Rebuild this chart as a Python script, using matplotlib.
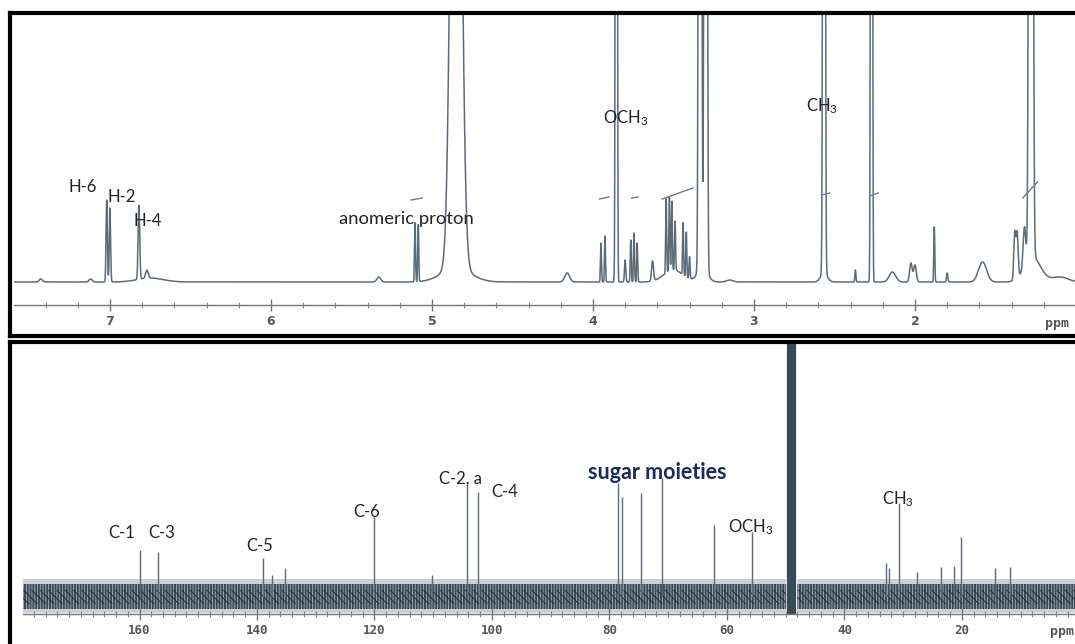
import numpy as np
import matplotlib.pyplot as plt
from matplotlib.ticker import MultipleLocator

plt.rcParams['font.family'] = ['Lato', 'DejaVu Sans']
plt.rcParams['mathtext.default'] = 'regular'
plt.rcParams['hatch.linewidth'] = 0.6

W, H = 1075, 644
LINE = '#5d6b78'
INK = '#222222'

# 1H spectrum: peak positions (ppm), heights above baseline, gaussian widths (ppm)
h_ppm = [7.43, 7.12, 7.02, 7.00, 6.82, 6.77, 6.75, 5.33, 5.105, 5.085, 4.85, 4.85,
         4.16, 3.95, 3.925, 3.855, 3.80, 3.765, 3.745, 3.725, 3.63, 3.545, 3.525,
         3.51, 3.49, 3.44, 3.42, 3.40, 3.50, 3.335, 3.30, 3.32, 3.15, 2.565, 2.565,
         2.37, 2.27, 2.14, 2.025, 2.00, 1.88, 1.80, 1.58, 1.38, 1.365, 1.32, 1.28,
         1.27, 1.10]
h_int = [3, 3, 82, 74, 74, 8, 4, 5, 59, 57, 900, 14,
         9, 39, 46, 2500, 22, 42, 49, 39, 20, 74, 74,
         69, 49, 52, 45, 22, 12, 3000, 3000, 15, 2, 2500, 10,
         12, 2500, 10, 19, 17, 55, 9, 20, 47, 45, 40, 3000,
         25, 5]
h_wid = [0.01, 0.01, 0.004, 0.004, 0.005, 0.008, 0.08, 0.012, 0.003, 0.003, 0.0275, 0.09,
         0.015, 0.003, 0.003, 0.004, 0.004, 0.003, 0.003, 0.003, 0.006, 0.003, 0.003,
         0.003, 0.003, 0.003, 0.003, 0.003, 0.06, 0.006, 0.006, 0.03, 0.02, 0.005, 0.02,
         0.003, 0.004, 0.02, 0.008, 0.008, 0.003, 0.004, 0.025, 0.006, 0.006, 0.008, 0.008,
         0.05, 0.05]

# integral traces: start ppm, end ppm, start level, end level
integ_start = [5.13, 3.96, 3.76, 3.57, 2.58, 2.28, 1.33]
integ_end = [5.06, 3.90, 3.72, 3.38, 2.53, 2.23, 1.24]
integ_y0 = [82, 83, 84, 83, 87, 86, 84]
integ_y1 = [84, 85, 85, 94, 89, 89, 100]

# 13C spectrum: line positions (ppm) and heights above the noise level
c_ppm = [160.0, 156.8, 138.9, 137.4, 135.2, 120.0, 110.2, 104.2, 102.3, 78.6, 77.9,
         74.7, 71.1, 62.2, 55.7, 33.0, 32.4, 30.7, 27.7, 23.6, 21.3, 20.1, 14.4, 11.8]
c_int = [47, 45, 39, 22, 29, 80, 22, 112, 105, 114, 100,
         104, 119, 72, 65, 34, 29, 94, 25, 30, 31, 60, 29, 30]
solvent_ppm = [48.36, 48.57, 48.79, 49.00, 49.21, 49.43, 49.64]

h_labels = ['H-6', 'H-2', 'H-4', 'anomeric proton', 'OCH$_3$', 'CH$_3$']
h_lab_x = [7.168, 6.925, 6.764, 5.162, 3.795, 2.578]
h_lab_y = [118, 108, 84, 86, 187, 199]
h_lab_size = [12, 12, 12, 13.3, 12, 12]

c_labels = ['C-1', 'C-3', 'C-5', 'C-6', 'C-2, a', 'C-4', 'OCH$_3$', 'CH$_3$']
c_lab_x = [163.0, 156.3, 139.5, 121.4, 105.3, 97.8, 55.9, 30.9]
c_lab_y = [81, 81, 68, 102, 135, 122, 87, 115]


def px_box(x0, y0, x1, y1):
    return [x0 / W, 1 - y1 / H, (x1 - x0) / W, (y1 - y0) / H]


fig = plt.figure(figsize=(W / 100, H / 100), dpi=100)

# black frames round both spectra
for box in (px_box(10, 13, 1095, 336), px_box(10, 342, 1095, 670)):
    fr = fig.add_axes(box)
    fr.set_xticks([])
    fr.set_yticks([])
    for s in fr.spines.values():
        s.set_linewidth(3)
        s.set_color('black')


def scale_axes(box, xlim, ylim, major, minor):
    ax = fig.add_axes(box)
    ax.patch.set_alpha(0)
    ax.set_xlim(*xlim)
    ax.set_ylim(*ylim)
    for s in ('top', 'left', 'right'):
        ax.spines[s].set_visible(False)
    ax.spines['bottom'].set_color('#777777')
    ax.spines['bottom'].set_linewidth(1)
    ax.set_yticks([])
    ax.xaxis.set_major_locator(MultipleLocator(major))
    ax.xaxis.set_minor_locator(MultipleLocator(minor))
    ax.tick_params(axis='x', which='major', direction='inout', length=8, width=1,
                   color='#777777', labelcolor='#555555', pad=3)
    ax.tick_params(axis='x', which='minor', direction='inout', length=5, width=0.8,
                   color='#888888')
    return ax


# ---- 1H ----
base_h = 23
ax1 = scale_axes(px_box(14, 15, 1095, 305), (7.596, 0.882), (0, 290), 1, 0.2)
x1 = np.arange(0.85, 7.6, 0.0005)
y1 = np.zeros_like(x1)
for p, a, w in zip(h_ppm, h_int, h_wid):
    y1 += a * np.exp(-0.5 * ((x1 - p) / w) ** 2)
ax1.plot(x1, base_h + y1, color=LINE, lw=1.1)
for a, b, s, e in zip(integ_start, integ_end, integ_y0, integ_y1):
    ax1.plot([a, b], [base_h + s, base_h + e], color='#777777', lw=1.0)
ax1.set_xticks([7, 6, 5, 4, 3, 2])
ax1.set_xticklabels(['7', '6', '5', '4', '3', '2'], fontsize=9, fontweight='bold',
                    family='DejaVu Sans')
for t, x, y, fs in zip(h_labels, h_lab_x, h_lab_y, h_lab_size):
    ax1.text(x, y, t, ha='center', va='center', fontsize=fs, color=INK)
fig.text(1057 / W, 1 - 323 / H, 'ppm', ha='center', va='center', fontsize=9.5,
         color='#555555', family='DejaVu Sans Mono', fontweight='bold')

# ---- 13C ----
base_c = 17
ax2 = scale_axes(px_box(23, 344, 1095, 614), (179.83, -2.64), (0, 270), 20, 2)
xc = np.linspace(179.83, -2.64, 2000)
gap = (xc < 48.1) | (xc > 49.9)
# noise floor drawn as a textured band
ax2.fill_between(xc, 1, 35, where=gap, color='#8c99a5', alpha=0.45, lw=0)
ax2.fill_between(xc, 5, 30, where=gap, facecolor='#3a4754', edgecolor='#aab5bf',
                 hatch='||||||', lw=0)
ax2.fill_between(xc, 10, 24, where=gap, facecolor='none', edgecolor='#1b2631',
                 hatch='\\\\\\\\', lw=0)
ax2.vlines(c_ppm, base_c, [base_c + v for v in c_int], color=LINE, lw=1.0)
ax2.vlines(solvent_ppm, 0, 270, color='#3a4956', lw=1.6)
ax2.set_xticks([160, 140, 120, 100, 80, 60, 40, 20])
ax2.set_xticklabels(['160', '140', '120', '100', '80', '60', '40', '20'], fontsize=9,
                    fontweight='bold', family='DejaVu Sans Mono')
for t, x, y in zip(c_labels, c_lab_x, c_lab_y):
    ax2.text(x, y, t, ha='center', va='center', fontsize=12, color=INK)
ax2.text(71.9, 141, 'sugar moieties', ha='center', va='center', fontsize=15.5,
         fontweight='bold', color='#1c2a5c')
fig.text(1062 / W, 1 - 632 / H, 'ppm', ha='center', va='center', fontsize=9.5,
         color='#555555', family='DejaVu Sans Mono', fontweight='bold')

fig.savefig('out.png', dpi=100)
